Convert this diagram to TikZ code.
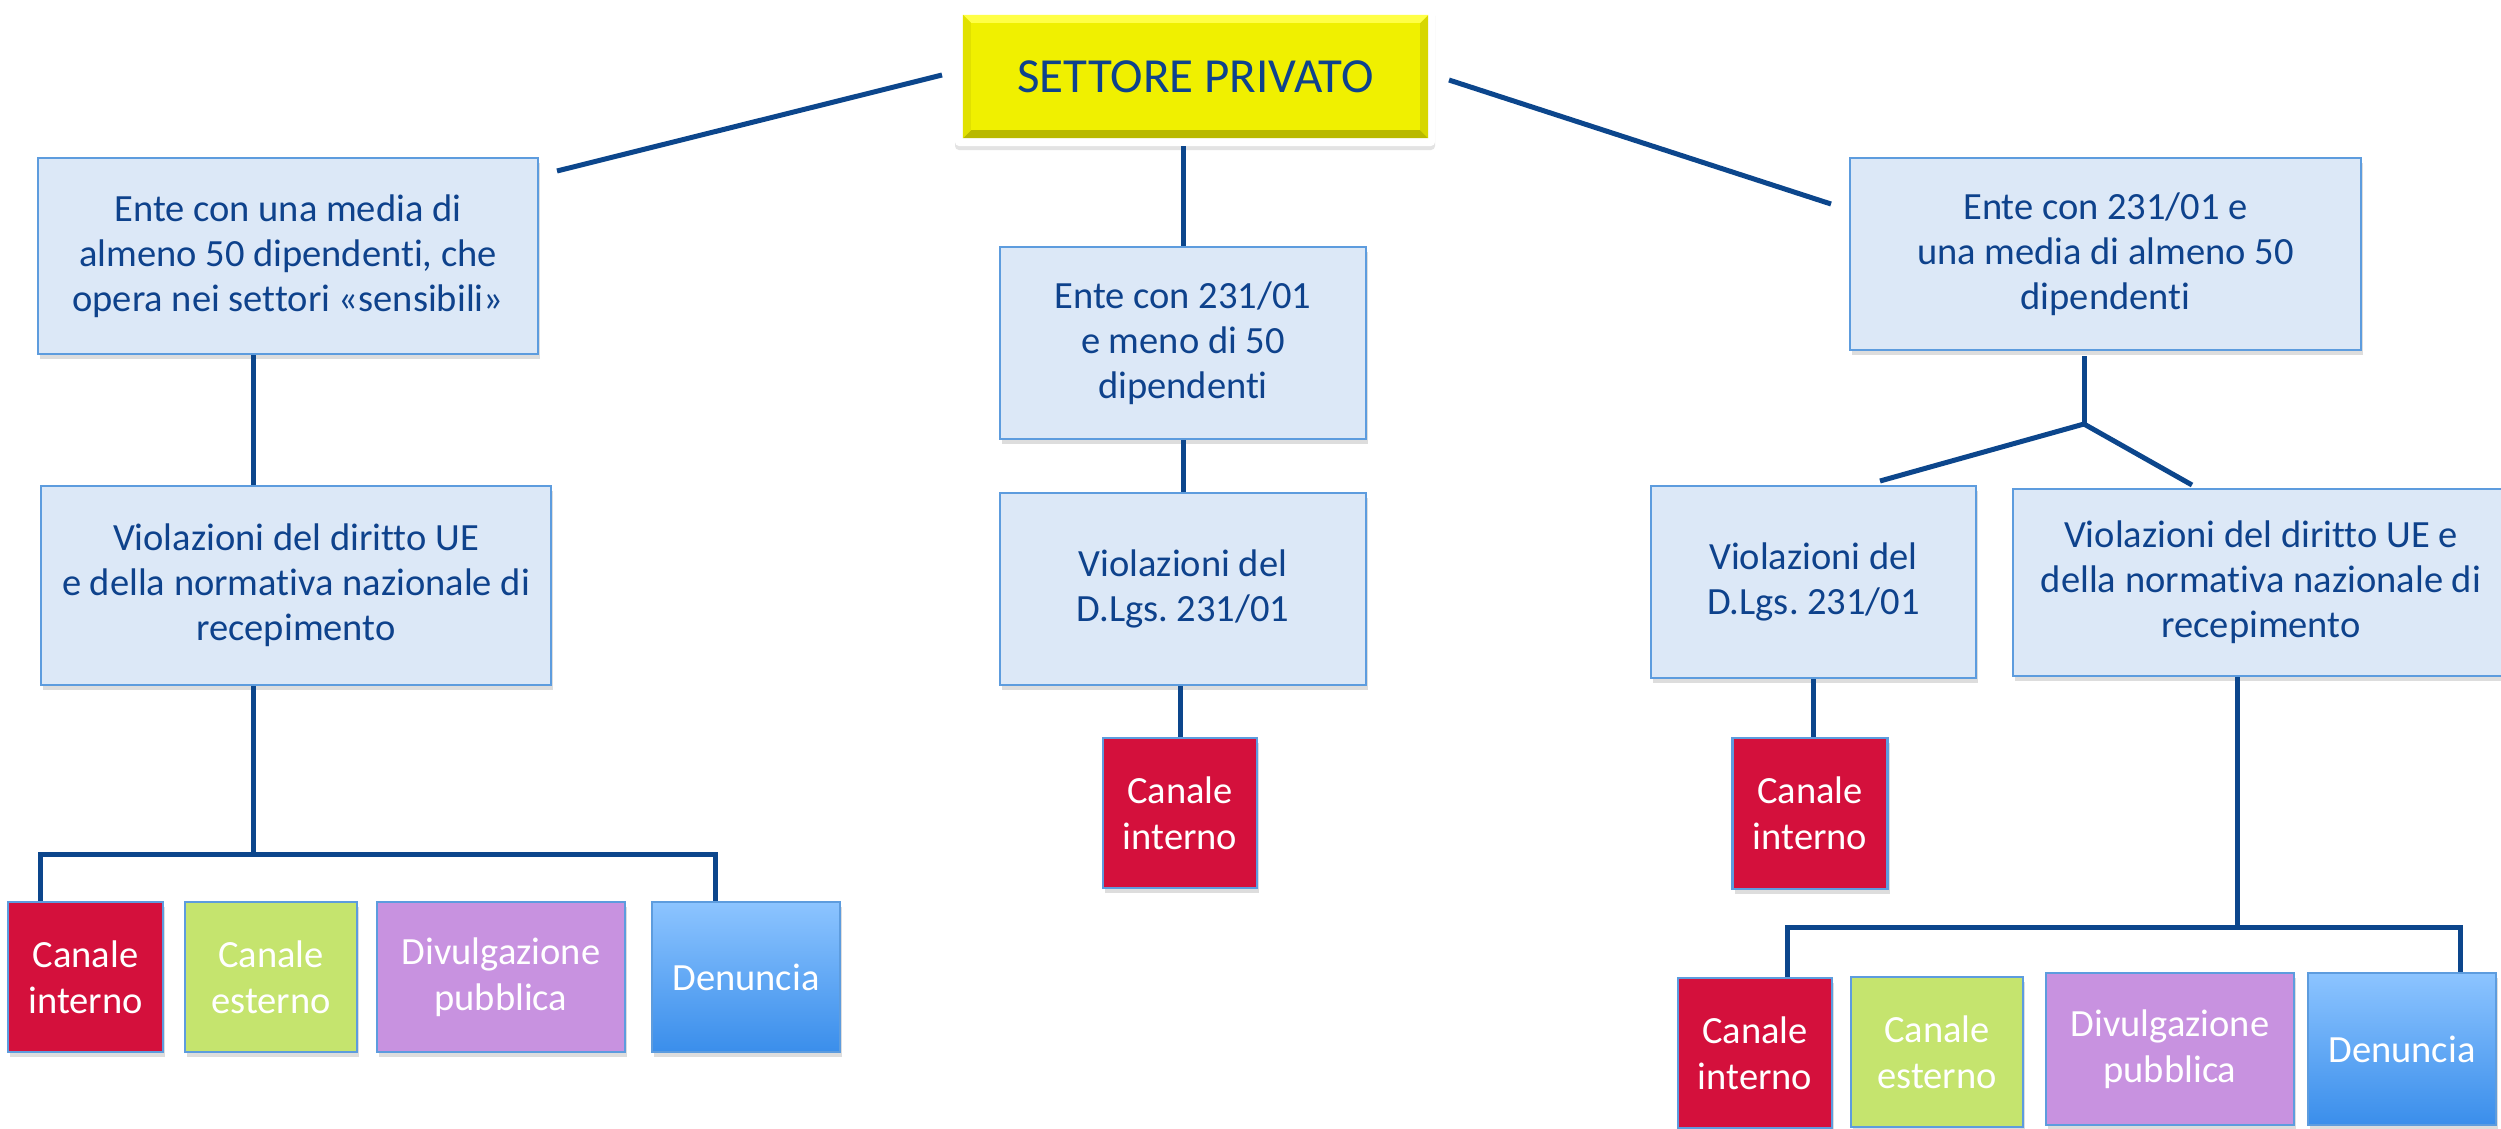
\documentclass[tikz,border=0pt]{standalone}
\usepackage{fontspec}
\setmainfont{Carlito}[Ligatures={NoCommon,NoRequired,NoContextual}]
\usetikzlibrary{shadows,calc}
\definecolor{txtblue}{RGB}{14,66,140}
\definecolor{lineblue}{RGB}{12,70,140}
\definecolor{boxfill}{RGB}{220,232,247}
\definecolor{boxdraw}{RGB}{93,156,222}
\definecolor{yel}{RGB}{240,240,0}
\definecolor{yeldark}{RGB}{185,185,0}
\definecolor{yelmid}{RGB}{215,215,0}
\definecolor{yellight}{RGB}{255,255,70}
\definecolor{crimson}{RGB}{212,16,60}
\definecolor{lime}{RGB}{197,228,110}
\definecolor{lilac}{RGB}{200,146,224}
\definecolor{dentop}{RGB}{140,196,255}
\definecolor{denbot}{RGB}{58,142,235}
\tikzset{
  conn/.style={draw=lineblue, line width=5pt, line join=miter},
  shad/.style={drop shadow={shadow xshift=2pt, shadow yshift=-5pt, opacity=0.22, fill=black!60}},
  bluebox/.style={rectangle, fill=boxfill, draw=boxdraw, line width=2.5pt, text=txtblue,
    align=center, font=\fontsize{38.5}{45}\selectfont, inner sep=0pt, shad},
  colbox/.style={rectangle, draw=boxdraw, line width=2.5pt, text=white,
    align=center, font=\fontsize{38.5}{46}\selectfont, inner sep=0pt, shad},
}
\frenchspacing
\begin{document}
\begin{tikzpicture}[x=1pt,y=-1pt]
\fill[white] (0,0) rectangle (2501,1128);
\useasboundingbox (0,0) rectangle (2501,1128);

% root
\node[rectangle, fill=white, rounded corners=4pt, minimum width=480pt, minimum height=138pt, inner sep=0pt,
  drop shadow={shadow xshift=0pt, shadow yshift=-4pt, opacity=0.18, fill=black!60}] (rootf) at (1195,77) {};
\node[rectangle, fill=yel, minimum width=465pt, minimum height=123pt, inner sep=0pt] (root) at (1195.5,76.5) {};
\fill[yeldark] (root.south west) -- (root.south east) -- ($(root.south east)+(-8,-8)$) -- ($(root.south west)+(8,-8)$) -- cycle;
\fill[yelmid] (root.south east) -- (root.north east) -- ($(root.north east)+(-8,8)$) -- ($(root.south east)+(-8,-8)$) -- cycle;
\fill[yellight] (root.north west) -- (root.north east) -- ($(root.north east)+(-8,8)$) -- ($(root.north west)+(8,8)$) -- cycle;
\fill[yelmid!60!yel] (root.north west) -- (root.south west) -- ($(root.south west)+(8,-8)$) -- ($(root.north west)+(8,8)$) -- cycle;
\node[text=txtblue, font=\fontsize{49}{56}\selectfont, inner sep=0pt] (roottxt) at (root.center) {SETTORE PRIVATO};

% level 1
\node[bluebox, minimum width=500pt, minimum height=196pt] (L1L) at (288,256)
  {Ente con una media di\\almeno 50 dipendenti, che\\opera nei settori «sensibili»};
\node[bluebox, minimum width=366pt, minimum height=192pt] (L1C) at (1183,343)
  {Ente con 231/01\\e meno di 50\\dipendenti};
\node[bluebox, minimum width=511pt, minimum height=192pt] (L1R) at (2105.5,254)
  {Ente con 231/01 e\\una media di almeno 50\\dipendenti};

% level 2
\node[bluebox, minimum width=510pt, minimum height=199pt] (L2L) at (296,585.5)
  {Violazioni del diritto UE\\e della normativa nazionale di\\recepimento};
\node[bluebox, minimum width=366pt, minimum height=192pt] (L2C) at (1183,589)
  {Violazioni del\\D.Lgs. 231/01};
\node[bluebox, minimum width=325pt, minimum height=192pt] (L2Ra) at (1813.5,582)
  {Violazioni del\\D.Lgs. 231/01};
\node[bluebox, minimum width=496pt, minimum height=187pt] (L2Rb) at (2261,582.5)
  {Violazioni del diritto UE e\\della normativa nazionale di\\recepimento};

% channel boxes (single)
\node[colbox, fill=crimson, minimum width=154pt, minimum height=150pt] (CIC) at (1180,813) {Canale\\interno};
\node[colbox, fill=crimson, minimum width=155pt, minimum height=151pt] (CIR) at (1810,813.5) {Canale\\interno};

% bottom left row
\node[colbox, fill=crimson, minimum width=155pt, minimum height=150pt] (CI1) at (85.5,977) {Canale\\interno};
\node[colbox, fill=lime, minimum width=172pt, minimum height=150pt] (CE1) at (271,977) {Canale\\esterno};
\node[colbox, fill=lilac, minimum width=248pt, minimum height=150pt] (DP1) at (501,977) {Divulgazione\\pubblica};
\node[colbox, top color=dentop, bottom color=denbot, minimum width=188pt, minimum height=150pt] (DN1) at (746,977) {Denuncia};

% bottom right row
\node[colbox, fill=crimson, minimum width=154pt, minimum height=150pt] (CI2) at (1755,1053) {Canale\\interno};
\node[colbox, fill=lime, minimum width=172pt, minimum height=150pt] (CE2) at (1937,1052) {Canale\\esterno};
\node[colbox, fill=lilac, minimum width=248pt, minimum height=152pt] (DP2) at (2170,1049) {Divulgazione\\pubblica};
\node[colbox, top color=dentop, bottom color=denbot, minimum width=188pt, minimum height=152pt] (DN2) at (2402,1049) {Denuncia};

% connector coordinates
\coordinate (rl1) at (942,75);   \coordinate (rl2) at (557,171);
\coordinate (rr1) at (1449,80);  \coordinate (rr2) at (1831,204);
\coordinate (busL) at (253,854); \coordinate (busLa) at (40,854); \coordinate (busLb) at (715,854);
\coordinate (brR) at (2084,424); \coordinate (brRa) at (1880,481); \coordinate (brRb) at (2192,485);
\coordinate (busRm) at (2237,927); \coordinate (busRa) at (1787,927); \coordinate (busRb) at (2460,927);

% connectors
\draw[conn] (rl1) -- (rl2);
\draw[conn] (rr1) -- (rr2);
\draw[conn] (rootf.south -| L1C.north) -- (L1C.north);
\draw[conn] (L1L.south -| busL) -- (L2L.north -| busL);
\draw[conn] (L2L.south -| busL) -- (busL);
\draw[conn] (CI1.north -| busLa) -- (busLa) -- (busLb) -- (DN1.north -| busLb);
\draw[conn] (L1C.south) -- (L2C.north);
\draw[conn] (L2C.south -| CIC.north) -- (CIC.north);
\draw[conn] ($(L1R.south -| brR)+(0,5)$) -- (brR);
\draw[conn] (brRa) -- (brR) -- (brRb);
\draw[conn] (L2Ra.south) -- (L2Ra.south |- CIR.north);
\draw[conn] (L2Rb.south -| busRm) -- (busRm);
\draw[conn] (CI2.north -| busRa) -- (busRa) -- (busRb) -- (DN2.north -| busRb);
\end{tikzpicture}
\end{document}
